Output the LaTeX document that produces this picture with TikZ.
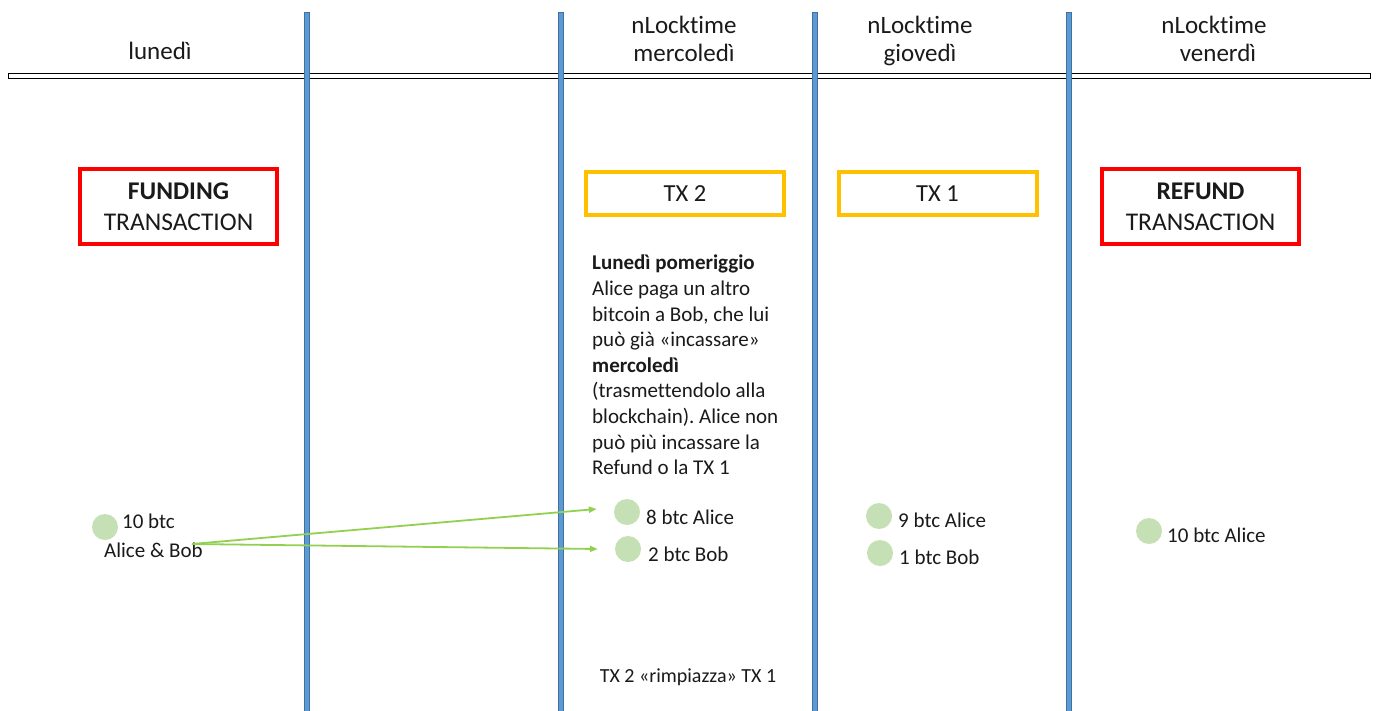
\documentclass[tikz,border=0pt]{standalone}
\usepackage{fontspec}
\setmainfont{Carlito}[Ligatures=CommonOff]
\usetikzlibrary{arrows.meta}
\definecolor{vblue}{HTML}{5B9BD5}
\definecolor{vblueedge}{HTML}{41719C}
\definecolor{boxred}{HTML}{FF0000}
\definecolor{boxorange}{HTML}{FFC000}
\definecolor{coin}{HTML}{C5E0B4}
\definecolor{arrowgreen}{HTML}{92D050}
\definecolor{txt}{HTML}{1A1A1A}
\tikzset{
  x=1pt, y=-1pt,
  divider/.style={fill=vblue, draw=vblueedge, line width=0.6pt},
  header/.style={font=\fontsize{25}{28}\selectfont\frenchspacing, text=txt, align=center, inner sep=0pt},
  redbox/.style={draw=boxred, line width=4pt, minimum width=197pt, minimum height=75pt, align=center, font=\fontsize{25.5}{31}\selectfont, text=txt},
  orangebox/.style={draw=boxorange, line width=4pt, minimum width=198pt, minimum height=43pt, font=\fontsize{24.5}{28}\selectfont, text=txt},
  coinlbl/.style={font=\fontsize{21}{25}\selectfont, text=txt, inner sep=0pt, anchor=base west},
  coindot/.style={circle, fill=coin, minimum size=26pt, inner sep=0pt},
  flow/.style={draw=arrowgreen, line width=1.8pt, -{Triangle[length=8pt,width=6pt]}}
}
\begin{document}
\begin{tikzpicture}
\useasboundingbox (0,0) rectangle (1383,711);
\fill[white] (0,0) rectangle (1383,711);
% timeline double line
\draw[black, line width=1pt] (8,74) rectangle (1370,79);
% dividers
\foreach \xx in {307,561,815,1069}{
  \draw[divider] (\xx-2.5,12) rectangle (\xx+2.5,711);
}
% headers
\node[header] (h1) at (160,54) {\strut lunedì};
\node[header] (h3) at (684,42) {\strut nLocktime\\\strut mercoledì};
\node[header] (h4) at (920,42) {\strut nLocktime\\\strut giovedì};
\node[header] (h5) at (1214,42) {\strut nLocktime\\\strut\hspace*{8pt}venerdì};
% boxes
\node[redbox] (fund) at (178.5,206.5) {\textbf{FUNDING}\\TRANSACTION};
\node[orangebox] (tx2) at (685,193.5) {TX 2};
\node[orangebox] (tx1) at (937.5,193.5) {TX 1};
\node[redbox] (refund) at (1200.5,206.5) {\textbf{REFUND}\\TRANSACTION};
% paragraph
\node[anchor=north west, inner sep=0pt, text width=210pt, align=flush left, text=txt,
  font=\fontsize{21}{25.6}\selectfont\frenchspacing] (para) at (592,255)
  {\textbf{Lunedì pomeriggio}\\Alice paga un altro\\bitcoin a Bob, che lui\\può già «incassare»\\\textbf{mercoledì}\\(trasmettendolo alla\\blockchain). Alice non\\può più incassare la\\Refund o la TX 1};
% coins
\node[coindot] (c0) at (105,527) {};
\node[coinlbl] (l0a) at (122,528) {10 btc};
\node[coinlbl] (l0b) at (104,557) {Alice \& Bob};
\coordinate (src) at (192,544);
\node[coindot] (c1) at (627,512) {};
\node[coinlbl] (l1) at (646,524) {8 btc Alice};
\node[coindot] (c2) at (628,549) {};
\node[coinlbl] (l2) at (648,561) {2 btc Bob};
\node[coindot] (c3) at (879,516) {};
\node[coinlbl] (l3) at (898,527) {9 btc Alice};
\node[coindot] (c4) at (880,553) {};
\node[coinlbl] (l4) at (899,564) {1 btc Bob};
\node[coindot] (c5) at (1149,531) {};
\node[coinlbl] (l5) at (1167,542) {10 btc Alice};
% arrows
\draw[flow] (src) -- ([xshift=-17pt,yshift=3pt]c1.west);
\draw[flow] (src) -- ([xshift=-17pt]c2.west);
% bottom note
\node[font=\fontsize{20}{23}\selectfont\frenchspacing, text=txt, inner sep=0pt] (note) at (688,677) {TX 2 «rimpiazza» TX 1};
\end{tikzpicture}
\end{document}
